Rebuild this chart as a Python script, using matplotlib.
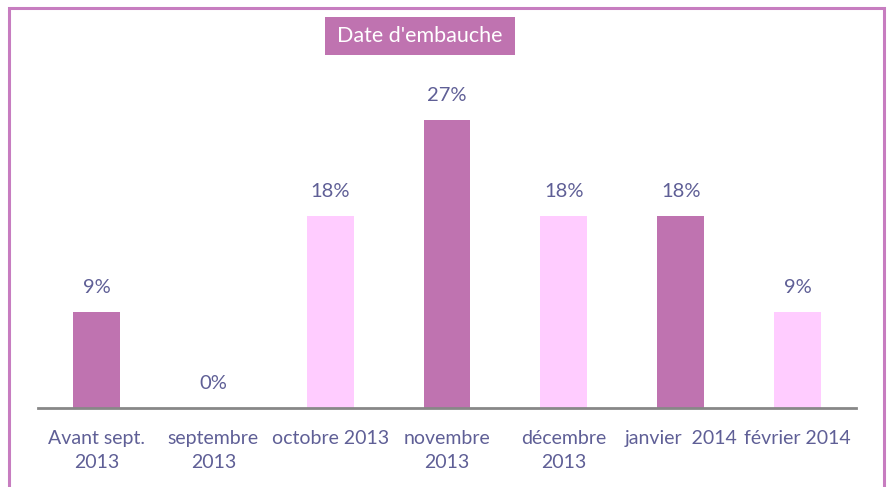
import matplotlib.pyplot as plt
from matplotlib.patches import Rectangle

categories = ['Avant sept.\n2013', 'septembre\n2013', 'octobre 2013', 'novembre\n2013',
              'décembre\n2013', 'janvier  2014', 'février 2014']
values = [9, 0, 18, 27, 18, 18, 9]
labels = ['9%', '0%', '18%', '27%', '18%', '18%', '9%']
colors = ['#BF73B0', '#BF73B0', '#FFCCFF', '#BF73B0', '#FFCCFF', '#BF73B0', '#FFCCFF']

plt.rcParams['font.family'] = ['Lato', 'DejaVu Sans']
text_color = '#5F5F96'

W, H = 891, 487
fig = plt.figure(figsize=(W / 100, H / 100), dpi=100)

# outer frame (bottom edge falls outside the picture)
fig.patches.append(Rectangle((9 / W, -0.05), 875 / W, 1.05 - 8 / H, transform=fig.transFigure,
                             fill=False, edgecolor='#C77DC0', linewidth=2.2))

ax = fig.add_axes([38 / W, 79 / H, 818 / W, 320 / H])
x = range(len(values))
ax.bar(x, values, width=0.4, color=colors)
for xi, v, lab in zip(x, values, labels):
    ax.text(xi, v + 1.5, lab, ha='center', va='bottom', fontsize=14.5, color=text_color)

ax.set_xlim(-0.5, len(values) - 0.5)
ax.set_ylim(0, 30)
ax.set_yticks([])
ax.set_xticks(list(x))
ax.set_xticklabels(categories, fontsize=14, color=text_color, linespacing=1.45)
ax.tick_params(axis='x', length=0, pad=16)
for side in ['top', 'left', 'right']:
    ax.spines[side].set_visible(False)
ax.spines['bottom'].set_color('#878787')
ax.spines['bottom'].set_linewidth(2)

# title box
fig.patches.append(Rectangle((325 / W, 1 - 55 / H), 190 / W, 38 / H, transform=fig.transFigure,
                             facecolor='#BF73B0', edgecolor='none'))
fig.text(420 / W, 1 - 36 / H, "Date d'embauche", ha='center', va='center',
         fontsize=15.5, color='white')

fig.savefig('out.png', dpi=100)
